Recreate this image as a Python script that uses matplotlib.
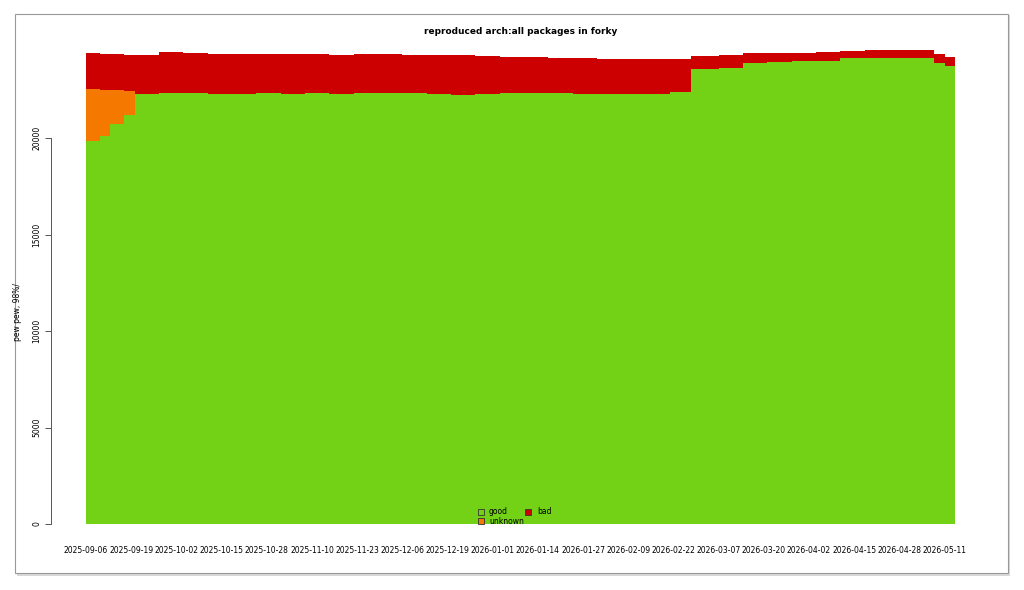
import matplotlib
matplotlib.use("Agg")
import matplotlib.pyplot as plt
import numpy as np
import pandas as pd
from matplotlib.patches import Rectangle

dates = pd.to_datetime(["2025-09-06","2025-09-10","2025-09-13","2025-09-17","2025-09-20","2025-09-27","2025-10-04","2025-10-11",
    "2025-10-18","2025-10-25","2025-11-01","2025-11-08","2025-11-15","2025-11-22","2025-11-29",
    "2025-12-06","2025-12-13","2025-12-20","2025-12-27","2026-01-03","2026-01-10","2026-01-17",
    "2026-01-24","2026-01-31","2026-02-07","2026-02-14","2026-02-21","2026-02-27","2026-03-07",
    "2026-03-14","2026-03-21","2026-03-28","2026-04-04","2026-04-11","2026-04-18","2026-04-25",
    "2026-05-02","2026-05-08","2026-05-11","2026-05-14"])
good = [19850,20100,20700,21200,22280,22320,22350,22300,22300,22310,22300,22310,22300,22320,22330,
        22350,22300,22220,22300,22310,22320,22320,22270,22290,22300,22300,22400,23570,23620,
        23900,23950,23980,24000,24120,24150,24140,24150,23900,23730,23730]
unknown = [2690,2400,1800,1250,0,0,0,0,0,0,0,0,0,0,0,0,0,0,0,0,0,0,0,0,0,0,0,0,0,0,0,0,0,0,0,0,0,0,0,0]
bad = [1860,1860,1850,1850,2020,2130,2030,2040,2040,2020,2040,2020,2020,2010,2010,
       1970,2000,2080,1950,1890,1860,1830,1850,1790,1770,1780,1700,680,680,
       500,470,440,440,380,410,400,410,450,470,470]

tick_labels = ["2025-09-06","2025-09-19","2025-10-02","2025-10-15","2025-10-28","2025-11-10","2025-11-23",
    "2025-12-06","2025-12-19","2026-01-01","2026-01-14","2026-01-27","2026-02-09","2026-02-22",
    "2026-03-07","2026-03-20","2026-04-02","2026-04-15","2026-04-28","2026-05-11"]

W, H = 1024, 590
fig = plt.figure(figsize=(W/100, H/100), dpi=100)
fig.patches.append(Rectangle((17/W, 1-576/H), 993/W, 561/H, transform=fig.transFigure,
                             facecolor="#d8d8d8", edgecolor="none", zorder=-2))
fig.patches.append(Rectangle((15/W, 1-573/H), 993/W, 559/H, transform=fig.transFigure,
                             facecolor="white", edgecolor="#999999", lw=0.8, zorder=-1))
ax = fig.add_axes([86/W, 1-524/H, (955-86)/W, (524-41.5)/H])
ax.patch.set_alpha(0)
g = np.array(good, float); u = np.array(unknown, float); b = np.array(bad, float)
ax.fill_between(dates, 0, g, step="post", color="#73d216", lw=0)
ax.fill_between(dates, g, g+u, step="post", color="#f57900", lw=0)
ax.fill_between(dates, g+u, g+u+b, step="post", color="#cc0000", lw=0)
ax.set_xlim(dates[0], dates[-1])
ax.set_ylim(0, 25000)
for s in ["top", "right", "bottom"]:
    ax.spines[s].set_visible(False)
ax.spines["left"].set_position(("outward", 25))
ax.spines["left"].set_bounds(0, 20000)
ax.spines["left"].set_color("#555555")
ax.spines["left"].set_linewidth(0.7)
ax.set_yticks([0, 5000, 10000, 15000, 20000])
ax.set_yticklabels(["0", "5000", "10000", "15000", "20000"], rotation=90, va="center", fontsize=5.5)
ax.tick_params(axis="y", length=4, color="#555555", width=0.7, pad=3)
ax.set_xticks(pd.to_datetime(tick_labels))
ax.set_xticklabels(tick_labels, fontsize=5.5)
ax.tick_params(axis="x", length=0, pad=16)
ax.set_ylabel("pew pew, 98%/", fontsize=5.5)
ax.yaxis.set_label_coords(-64/869, 0.44)
fig.text(0.5 + 0.5*(86+955-1024)/W, 1-32/H, "reproduced arch:all packages in forky", ha="center",
         va="center", fontsize=6.5, fontweight="bold")
def box(x, y, c):
    fig.patches.append(Rectangle((x/W, 1-(y+3)/H), 6/W, 6/H, transform=fig.transFigure,
                                 facecolor=c, edgecolor="#333333", lw=0.6))
box(478, 512, "#73d216"); fig.text(489/W, 1-512/H, "good", fontsize=5.5, va="center")
box(478, 521, "#f57900"); fig.text(489/W, 1-521/H, "unknown", fontsize=5.5, va="center")
box(525, 512, "#cc0000"); fig.text(537/W, 1-512/H, "bad", fontsize=5.5, va="center")
fig.savefig("out.png", dpi=100)
